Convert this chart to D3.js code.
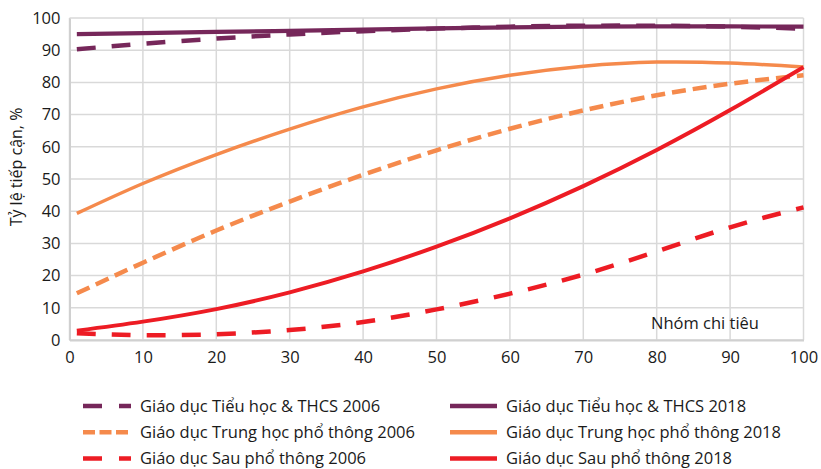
<!DOCTYPE html>
<html>
<head>
<meta charset="utf-8">
<script src="https://cdn.jsdelivr.net/npm/d3@7"></script>
<style>
  body { margin: 0; background: #fff; }
  text { font-family: "Open Sans", "Noto Sans", sans-serif; fill: #1a1a1a; }
</style>
</head>
<body>
<div id="chart"></div>
<script>
const width = 821;
const height = 469;

// spending groups (x) and access rates (%)
const groups = [1, 10, 20, 30, 40, 50, 60, 70, 80, 90, 100];
const primary2006 = [90.3, 92.0, 93.6, 94.9, 95.9, 96.7, 97.3, 97.6, 97.6, 97.3, 96.7];
const primary2018 = [95.0, 95.3, 95.7, 96.0, 96.4, 96.8, 97.1, 97.3, 97.4, 97.4, 97.3];
const upper2006 = [14.5, 24.0, 34.0, 43.0, 51.3, 58.9, 65.6, 71.3, 76.0, 79.6, 82.2];
const upper2018 = [39.3, 48.6, 57.6, 65.5, 72.4, 78.0, 82.2, 85.0, 86.3, 86.0, 84.8];
const post2006 = [2.1, 1.5, 1.8, 3.1, 5.6, 9.5, 14.4, 20.3, 27.5, 35.0, 41.2];
const post2018 = [2.9, 5.7, 9.6, 14.8, 21.3, 29.0, 37.8, 47.8, 59.0, 71.4, 84.7];
const ticks = [0, 10, 20, 30, 40, 50, 60, 70, 80, 90, 100];

const purple = "#76275a", orange = "#f58a4c", red = "#ed1c24";

const series = [
    {name: "Giáo dục Tiểu học & THCS 2006", values: primary2006, color: purple, w: 4.5, dash: "19,16"},
    {name: "Giáo dục Tiểu học & THCS 2018", values: primary2018, color: purple, w: 4.2, dash: null},
    {name: "Giáo dục Trung học phổ thông 2006", values: upper2006, color: orange, w: 4.5, dash: "14,7"},
    {name: "Giáo dục Trung học phổ thông 2018", values: upper2018, color: orange, w: 3.5, dash: null},
    {name: "Giáo dục Sau phổ thông 2006", values: post2006, color: red, w: 4.5, dash: "19,16"},
    {name: "Giáo dục Sau phổ thông 2018", values: post2018, color: red, w: 4, dash: null}
];

const svg = d3.select("#chart")
    .append("svg")
    .attr("width", width)
    .attr("height", height)

const x = d3.scaleLinear().domain([0, 100]).range([69.5, 803.5]);
const y = d3.scaleLinear().domain([0, 100]).range([340, 18]);

// grid
svg.append("g").selectAll("line")
    .data(ticks)
    .enter().append("line")
    .attr("x1", d => x(d)).attr("x2", d => x(d))
    .attr("y1", y(0)).attr("y2", y(100))
    .attr("stroke", "#d9d9d9").attr("stroke-width", 1.5);

svg.append("g").selectAll("line")
    .data(ticks)
    .enter().append("line")
    .attr("x1", x(0)).attr("x2", x(100))
    .attr("y1", d => y(d)).attr("y2", d => y(d))
    .attr("stroke", "#d9d9d9").attr("stroke-width", 1.5);

// axes
const yAxis = svg.append("g")
    .attr("transform", `translate(${x(0)},0)`)
    .call(d3.axisLeft(y).tickValues(ticks).tickSize(0).tickPadding(9));
const xAxis = svg.append("g")
    .attr("transform", `translate(0,${y(0)})`)
    .call(d3.axisBottom(x).tickValues(ticks).tickSize(0).tickPadding(11));
[xAxis, yAxis].forEach(a => {
    a.select(".domain").attr("stroke", "#d0d0d0").attr("stroke-width", 2);
    a.selectAll("text").attr("font-size", 16.5).attr("fill", "#1a1a1a")
        .style("font-family", "'Open Sans', sans-serif");
});

svg.append("text")
    .attr("transform", "translate(22,167) rotate(-90)")
    .attr("text-anchor", "middle")
    .attr("font-size", 16)
    .text("Tỷ lệ tiếp cận, %");

svg.append("text")
    .attr("x", 651).attr("y", 329)
    .attr("font-size", 16.5)
    .text("Nhóm chi tiêu");

const line = d3.line()
    .x((d, i) => x(groups[i]))
    .y(d => y(d))
    .curve(d3.curveNatural);

svg.append("g").selectAll("path")
    .data(series)
    .enter().append("path")
    .attr("d", d => line(d.values))
    .attr("fill", "none")
    .attr("stroke", d => d.color)
    .attr("stroke-width", d => d.w)
    .attr("stroke-dasharray", d => d.dash);

// legend
const legend = svg.append("g").selectAll("g")
    .data(series)
    .enter().append("g")
    .attr("transform", (d, i) => `translate(${i % 2 ? 450 : 83},${406 + Math.floor(i / 2) * 26.3})`);

legend.append("line")
    .attr("x1", 0).attr("x2", d => d.dash ? 48 : 47)
    .attr("stroke", d => d.color)
    .attr("stroke-width", 4.5)
    .attr("stroke-dasharray", (d, i) => i === 2 ? "12,4.5" : d.dash ? "19,17" : null);

legend.append("text")
    .attr("x", (d, i) => i % 2 ? 56 : 57)
    .attr("dy", "0.35em")
    .attr("font-size", 16.5)
    .text(d => d.name);
</script>
</body>
</html>
